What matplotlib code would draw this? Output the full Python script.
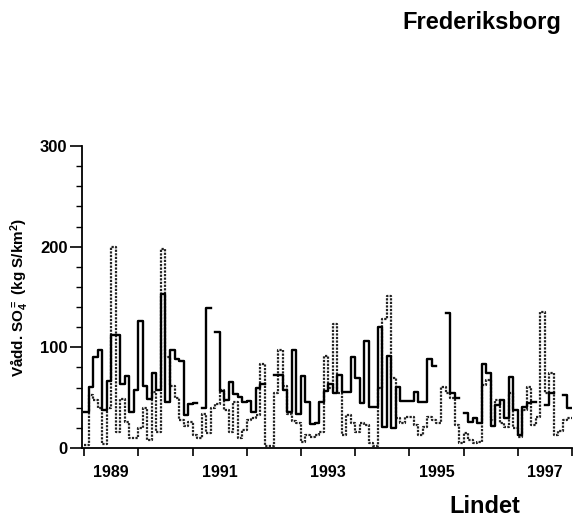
import numpy as np
import matplotlib
matplotlib.use("Agg")
import matplotlib.pyplot as plt
from matplotlib.ticker import FixedLocator, MultipleLocator, NullFormatter

plt.rcParams["font.family"] = ["Liberation Sans", "DejaVu Sans"]
plt.rcParams["mathtext.fontset"] = "custom"
plt.rcParams["mathtext.rm"] = "Liberation Sans:bold"
plt.rcParams["mathtext.it"] = "Liberation Sans:bold"
plt.rcParams["mathtext.bf"] = "Liberation Sans:bold"

# Monthly sulphate deposition (kg S/km2), Jan 1989 - Dec 1997
years = list(range(1989, 1998))
nan = np.nan
series_solid = [
    36, 61, 90, 97, 38, 67, 112, 112, 64, 72, 36, 58,      # 1989
    126, 62, 49, 75, 58, 153, 46, 97, 88, 86, 33, 44,      # 1990
    45, nan, 40, 139, nan, 115, 57, 48, 66, 54, 51, 46,    # 1991
    47, 36, 60, 64, nan, nan, 73, 73, 58, 36, 97, 34,      # 1992
    72, 46, 24, 25, 46, 57, 64, 55, 73, 56, 56, 90,        # 1993
    70, 45, 106, 41, 41, 120, 21, 91, 20, 61, 47, 47,      # 1994
    47, 56, 46, 46, 88, 81, nan, nan, 134, 55, 50, nan,    # 1995
    35, 26, 30, 25, 83, 75, 22, 43, 48, 30, 71, 38,        # 1996
    13, 41, 45, 46, nan, nan, 43, 55, nan, nan, 53, 40,    # 1997
]
series_dotted = [
    3, 53, 48, 40, 4, 40, 200, 16, 49, 26, 10, 10,         # 1989
    20, 40, 8, 56, 16, 198, 90, 62, 50, 28, 22, 26,        # 1990
    13, 10, 34, 15, 40, 44, 58, 38, 16, 46, 10, 18,        # 1991
    28, 30, 33, 83, 2, 2, 55, 97, 62, 34, 27, 25,          # 1992
    6, 13, 11, 13, 16, 91, 60, 123, 55, 13, 33, 25,        # 1993
    16, 25, 23, 5, 2, 60, 128, 151, 70, 30, 25, 31,        # 1994
    31, 23, 13, 21, 31, 28, 25, 61, 55, 50, 23, 5,         # 1995
    15, 8, 5, 6, 63, 68, 28, 48, 25, 21, 55, 20,           # 1996
    11, 38, 61, 23, 31, 135, 55, 75, 13, 17, 28, 30,       # 1997
]
year_labels = ["1989", "1991", "1993", "1995", "1997"]

fig = plt.figure(figsize=(5.79, 5.20), dpi=100)
ax = fig.add_axes([82 / 579, 1 - 448 / 520, 490 / 579, 302 / 520])

n = len(series_solid)
t = years[0] + np.arange(n + 1) / 12.0
solid = np.append(series_solid, series_solid[-1])
dotted = np.append(series_dotted, series_dotted[-1])

ax.step(t, dotted, where="post", color="#222222", lw=1.6,
        linestyle=(0, (1.0, 0.6)))
ax.step(t, solid, where="post", color="black", lw=1.7)

ax.set_xlim(1988.96, 1998.0)
ax.set_ylim(0, 300)

for side in ("top", "right"):
    ax.spines[side].set_visible(False)
for side in ("left", "bottom"):
    ax.spines[side].set_linewidth(1.3)

# y axis: majors every 100, minors every 20
ax.yaxis.set_major_locator(MultipleLocator(100))
ax.yaxis.set_minor_locator(MultipleLocator(20))
ax.tick_params(axis="y", which="major", direction="out", length=8.5,
               width=1.2, pad=2, labelsize=12)
ax.tick_params(axis="y", which="minor", direction="out", length=4.3, width=1.0)
for lab in ax.get_yticklabels():
    lab.set_fontweight("bold")

# x axis: ticks at year boundaries, labels centred on odd years
ax.xaxis.set_major_locator(FixedLocator([y for y in range(1989, 1999)]))
ax.xaxis.set_major_formatter(NullFormatter())
ax.tick_params(axis="x", which="major", direction="out", length=6, width=1.2)
ax.set_xticks([int(s) + 0.5 for s in year_labels], labels=year_labels, minor=True)
ax.tick_params(axis="x", which="minor", length=0, pad=12, labelsize=11.5)
for lab in ax.get_xticklabels(minor=True):
    lab.set_fontweight("bold")

fig.text(20 / 579, 1 - 297 / 520, r"Vådd. SO$_4^{=}$ (kg S/km$^2$)",
         rotation=90, ha="center", va="center", fontsize=11, fontweight="bold")

fig.text(482 / 579, 1 - 29.5 / 520, "Frederiksborg", ha="center",
         va="baseline", fontsize=17, fontweight="bold")
fig.text(485 / 579, 1 - 513 / 520, "Lindet", ha="center",
         va="baseline", fontsize=17, fontweight="bold")

fig.savefig("out.png", dpi=100)
